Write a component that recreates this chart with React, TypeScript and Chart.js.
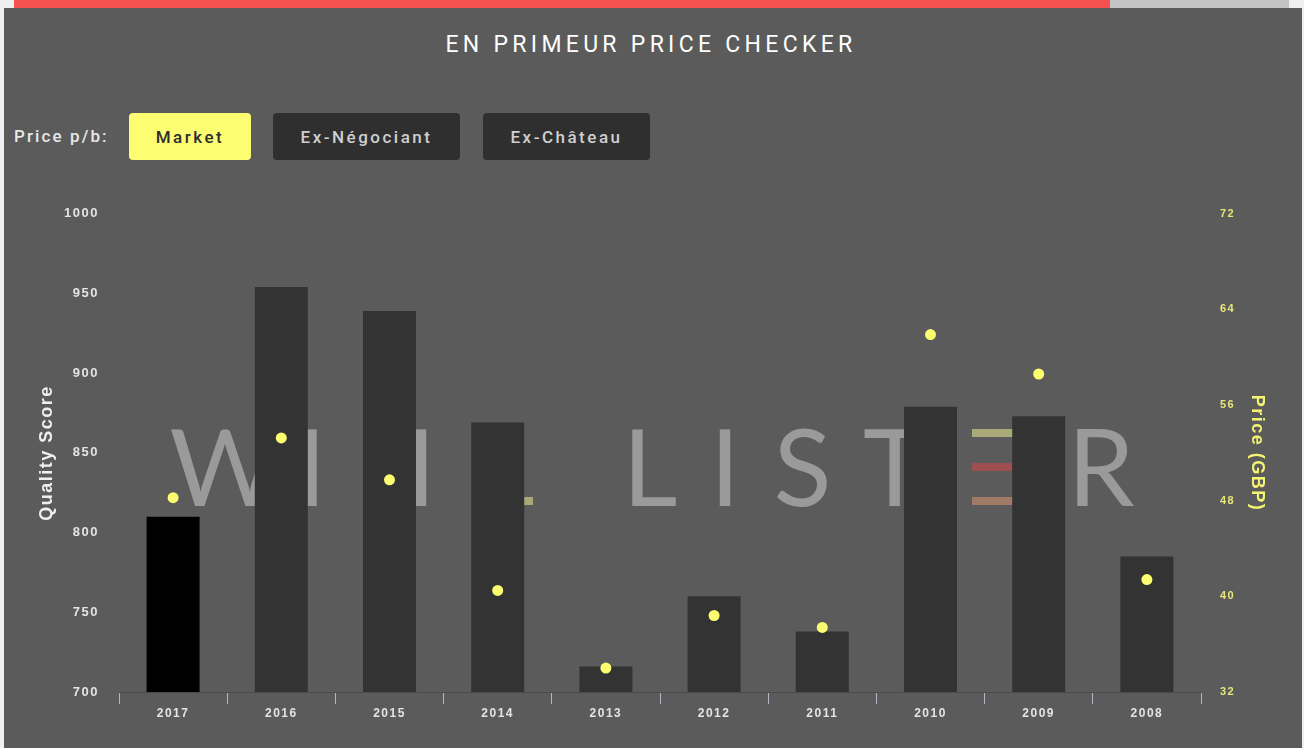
import React, { useEffect, useRef } from 'react';
import { Chart, registerables } from 'chart.js';

Chart.register(...registerables);

// ---- data ----
const vintages = ['2017', '2016', '2015', '2014', '2013', '2012', '2011', '2010', '2009', '2008'];
const qualityScores = [810, 954, 939, 869, 716, 760, 738, 879, 873, 785];
const marketPrices = [48.25, 53.25, 49.75, 40.5, 34, 38.4, 37.4, 61.9, 58.6, 41.4];
const barColors = ['#000000', '#333333', '#333333', '#333333', '#333333', '#333333', '#333333', '#333333', '#333333', '#333333'];
const qualityAxis = { min: 700, max: 1000, step: 50 };
const priceAxis = { min: 32, max: 72, step: 8 };
const priceButtons = ['Market', 'Ex-Négociant', 'Ex-Château'];

// ---- decoration (watermark) ----
const CANVAS_TOP = 186;
const CANVAS_H = 748 - CANVAS_TOP;
const wmLetters: [string, number][] = [
  ['W', 225], ['I', 311.5], ['I', 421], ['L', 650], ['I', 725], ['S', 802.5], ['T', 894.5], ['R', 1101],
];
const wmStripes: [number, number, number, string][] = [
  // x0, x1, yTop, color
  [476, 524, 429, '#a05050'],
  [476, 533, 497, '#a8a878'],
  [972, 1030, 429, '#a9a97a'],
  [972, 1030, 463, '#9e4f4f'],
  [972, 1030, 497, '#a27a68'],
];

const watermarkPlugin = {
  id: 'watermark',
  beforeDatasetsDraw(chart: any) {
    const ctx = chart.ctx;
    ctx.save();
    ctx.letterSpacing = '0px';
    ctx.font = '400 107px Lato';
    ctx.fillStyle = '#9a9a9a';
    ctx.textAlign = 'center';
    ctx.textBaseline = 'alphabetic';
    wmLetters.forEach(([ch, x]) => ctx.fillText(ch, x, 506 - CANVAS_TOP));
    wmStripes.forEach(([x0, x1, y, c]) => {
      ctx.fillStyle = c;
      ctx.fillRect(x0, y - CANVAS_TOP, x1 - x0, 8);
    });
    ctx.restore();
  },
};

const spacingPlugin = {
  id: 'spacing',
  beforeDraw(chart: any) {
    chart.ctx.letterSpacing = '1.5px';
  },
};

const plainNumber = (v: any) => String(v);

function PriceChart() {
  const ref = useRef<HTMLCanvasElement | null>(null);
  useEffect(() => {
    if (!ref.current) return;
    const chart = new Chart(ref.current, {
      type: 'bar',
      data: {
        labels: vintages,
        datasets: [
          {
            type: 'line',
            label: 'Price',
            data: marketPrices,
            yAxisID: 'y1',
            showLine: false,
            pointRadius: 5.5,
            pointBackgroundColor: '#fdfd70',
            pointBorderWidth: 0,
            order: 0,
          } as any,
          {
            type: 'bar',
            label: 'Quality',
            data: qualityScores,
            yAxisID: 'y',
            backgroundColor: barColors,
            borderWidth: 0,
            barPercentage: 0.49,
            categoryPercentage: 1,
            order: 1,
          },
        ],
      },
      options: {
        animation: false,
        responsive: false,
        events: [],
        layout: { padding: 0 },
        plugins: { legend: { display: false }, tooltip: { enabled: false } },
        scales: {
          x: {
            type: 'category',
            offset: true,
            grid: {
              display: true,
              drawOnChartArea: false,
              drawTicks: true,
              tickLength: 12,
              color: '#b2b6c2',
              offset: true,
            },
            border: { display: true, color: '#4a4a4a', width: 1 },
            ticks: {
              color: '#e4e4e4',
              font: { family: 'Liberation Sans', size: 12, weight: 'bold' },
              padding: 2,
            },
            afterFit: (s: any) => { s.height = 56; },
          },
          y: {
            position: 'left',
            min: qualityAxis.min,
            max: qualityAxis.max,
            ticks: {
              stepSize: qualityAxis.step,
              color: '#e4e4e4',
              font: { family: 'Liberation Sans', size: 13, weight: 'bold' },
              padding: 20,
              callback: plainNumber,
            },
            grid: { display: false, drawTicks: false },
            border: { display: false },
            title: {
              display: true,
              text: 'Quality Score',
              color: '#efefef',
              font: { family: 'Liberation Sans', size: 18, weight: 'bold' },
              padding: { top: 36, bottom: 0 },
            },
            afterFit: (s: any) => { s.width = 119; },
          },
          y1: {
            position: 'right',
            min: priceAxis.min,
            max: priceAxis.max,
            ticks: {
              stepSize: priceAxis.step,
              color: '#e6e67a',
              font: { family: 'Liberation Sans', size: 11, weight: 'bold' },
              padding: 19,
              callback: plainNumber,
            },
            grid: { display: false, drawTicks: false },
            border: { display: false },
            title: {
              display: true,
              text: 'Price (GBP)',
              color: '#f4f472',
              font: { family: 'Liberation Sans', size: 18, weight: 'bold' },
              padding: { top: 36, bottom: 0 },
            },
            afterFit: (s: any) => { s.width = 103; },
          },
        },
      },
      plugins: [spacingPlugin, watermarkPlugin],
    } as any);
    return () => chart.destroy();
  }, []);
  return (
    <canvas
      ref={ref}
      width={1304}
      height={CANVAS_H}
      style={{ position: 'absolute', left: 0, top: CANVAS_TOP, width: 1304, height: CANVAS_H }}
    />
  );
}

const btnGeom = [
  { left: 129, width: 122, bg: '#fdfd72', color: '#2e2e2e' },
  { left: 273, width: 187, bg: '#2f2f2f', color: '#cfcfcf' },
  { left: 483, width: 167, bg: '#2f2f2f', color: '#cfcfcf' },
];

export default function App() {
  return (
    <div
      style={{
        position: 'fixed',
        left: 0,
        top: 0,
        width: 1304,
        height: 748,
        background: '#efefef',
        overflow: 'hidden',
        fontFamily: 'Roboto, sans-serif',
      }}
    >
      <div style={{ position: 'absolute', left: 14, top: 0, width: 1096, height: 8, background: '#f45050' }} />
      <div style={{ position: 'absolute', left: 1110, top: 0, width: 179, height: 8, background: '#c4c4c4' }} />
      <div style={{ position: 'absolute', left: 4, top: 8, width: 1298, height: 740, background: '#5b5b5b' }} />
      <div
        style={{
          position: 'absolute',
          left: 0,
          top: 31,
          width: 1302,
          textAlign: 'center',
          color: '#ffffff',
          fontSize: 23,
          lineHeight: '28px',
          letterSpacing: '4.3px',
        }}
      >
        EN PRIMEUR PRICE CHECKER
      </div>
      <div
        style={{
          position: 'absolute',
          left: 14,
          top: 124,
          color: '#e8e8e8',
          fontSize: 17,
          fontWeight: 500,
          lineHeight: '24px',
          letterSpacing: '2.1px',
        }}
      >
        Price p/b:
      </div>
      {priceButtons.map((b, i) => (
        <div
          key={b}
          style={{
            position: 'absolute',
            left: btnGeom[i].left,
            top: 113,
            width: btnGeom[i].width,
            height: 47,
            borderRadius: 4,
            background: btnGeom[i].bg,
            color: btnGeom[i].color,
            fontSize: 17,
            fontWeight: 500,
            lineHeight: '48px',
            textAlign: 'center',
            letterSpacing: '2.5px',
          }}
        >
          {b}
        </div>
      ))}
      <PriceChart />
    </div>
  );
}
